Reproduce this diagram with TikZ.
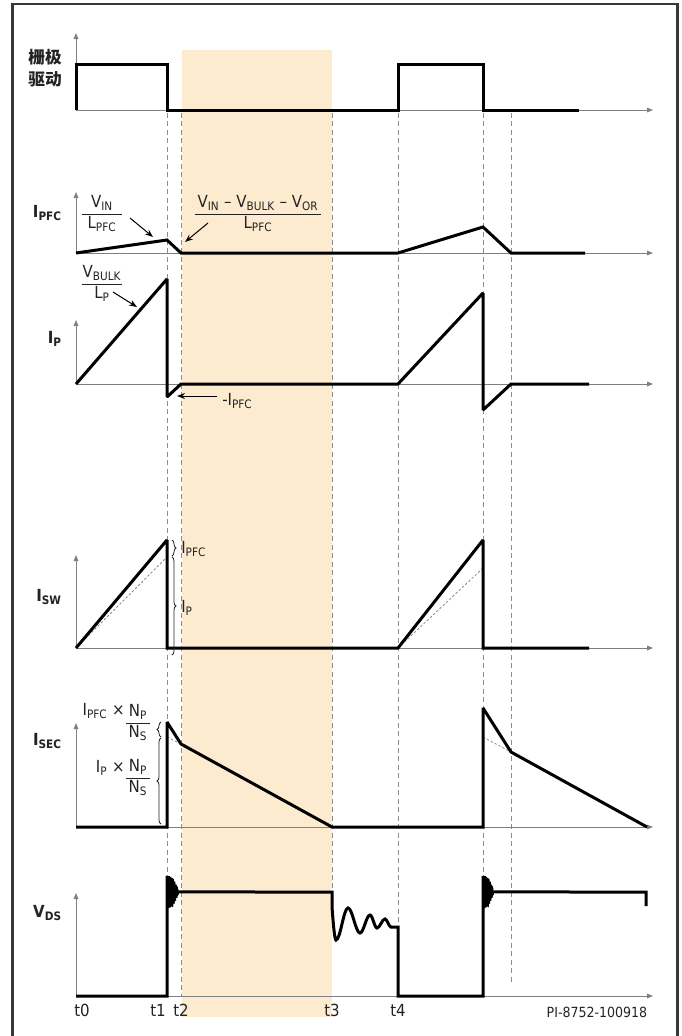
\documentclass[tikz,border=0pt]{standalone}
\usepackage{fontspec}
\IfFontExistsTF{DejaVu Sans Condensed}{\setmainfont{DejaVu Sans Condensed}}{\setmainfont{DejaVu Sans}}
\newfontfamily\cjkfont{Noto Sans CJK SC}
\usetikzlibrary{arrows.meta,decorations.pathreplacing}
\definecolor{shadecol}{RGB}{253,235,208}
\definecolor{axcol}{RGB}{125,128,135}
\definecolor{guidecol}{RGB}{140,140,140}
\definecolor{framecol}{RGB}{55,55,55}
\definecolor{txtcol}{RGB}{35,35,35}
\newcommand\sbs[1]{\textsubscript{#1}}
\newcommand\frc[2]{\begin{tabular}{@{\,}c@{\,}}#1\\\hline #2\end{tabular}}
\newcommand\frcw[3]{\begin{tabular}{@{}c@{}}\makebox[#1]{#2}\\\hline #3\end{tabular}}
\setlength{\arrayrulewidth}{0.6pt}
\begin{document}
\begin{tikzpicture}[x=0.75pt,y=-0.75pt,
  sig/.style={line width=2.25pt, line join=miter, miter limit=2},
  ax/.style={draw=axcol, line width=0.75pt, -{Triangle[length=4.5pt,width=3.5pt]}},
  guide/.style={draw=guidecol, line width=0.75pt, dash pattern=on 3.75pt off 2.6pt},
  thind/.style={draw=guidecol, line width=0.6pt, dash pattern=on 1.8pt off 1.5pt},
  ptr/.style={draw=black, line width=0.75pt, -{Stealth[length=6pt,width=4.5pt]}},
  brc/.style={draw=txtcol, line width=0.6pt, decorate, decoration={brace, amplitude=3pt}},
  lbl/.style={font=\fontsize{12.5}{14}\selectfont\bfseries, text=txtcol, inner sep=0pt, anchor=east, align=center},
  frm/.style={font=\fontsize{12.5}{15}\selectfont, text=txtcol, inner sep=0pt},
  tl/.style={font=\fontsize{12.5}{13.5}\selectfont, text=txtcol, inner sep=0pt},
]
\useasboundingbox (0,0) rectangle (682,1036);
% shaded interval t2..t3
\fill[shadecol] (182,50) rectangle (332,1017);
% frame
\draw[framecol, line width=1.75pt] (12.5,1040) -- (12.5,4) -- (677.5,4) -- (677.5,1040);
% dashed guides
\draw[guide] (167,113) -- (167,878);
\draw[guide] (181,113) -- (181,996);
\draw[guide] (332,113) -- (332,892);
\draw[guide] (398,113) -- (398,927);
\draw[guide] (483,113) -- (483,878);
\draw[guide] (511,113) -- (511,983);
% axes
\foreach \yb/\yt in {110/33, 253/192, 384/320, 648/555, 827/723, 996/893} {
  \draw[ax] (76,\yb) -- (76,\yt);
  \draw[ax] (76,\yb) -- (653,\yb);
}
% gate drive
\draw[sig] (76,110) -- (76,64) -- (167,64) -- (167,110) -- (398,110) -- (398,64) -- (483,64) -- (483,110) -- (579,110);
% I_PFC
\draw[sig] (76,253) -- (167,240) -- (181,253) -- (398,253) -- (483,227) -- (511,253) -- (585,253);
% I_P
\draw[sig] (76,384) -- (167,279) -- (167,397) -- (181,384) -- (398,384) -- (483,293) -- (483,410) -- (511,384) -- (589,384);
% I_SW
\draw[thind] (76,648) -- (167,557);
\draw[thind] (398,648) -- (483,568);
\draw[sig] (76,648) -- (167,540) -- (167,648) -- (398,648) -- (483,540) -- (483,648) -- (589,648);
% I_SEC
\draw[thind] (167,737) -- (181,744);
\draw[thind] (483,737) -- (511,752);
\draw[sig] (76,827) -- (167,827) -- (167,722) -- (181,744) -- (332,827) -- (483,827) -- (483,708) -- (511,752) -- (647,827);
% V_DS
\draw[sig] (76,996) -- (167,996) -- (167,876)
  -- plot[domain=0:1,samples=240] ({167+11*\x},{892-16*(1-\x*\x)*cos(2880*\x)})
  -- (332,892) -- (332,907) sin (336,940) cos (342,924) sin (348,908) cos (354,920.5) sin (360,933)
  cos (365,924) sin (370,915) cos (373.5,921.5) sin (377,928) cos (381,923.5) sin (385,919)
  cos (388,923) sin (391,927) -- (398,927) -- (398,996) -- (483,996) -- (483,876)
  -- plot[domain=0:1,samples=240] ({483+10*\x},{892-16*(1-\x*\x)*cos(2880*\x)})
  -- (646,892) -- (646,906);
% braces I_SW
\draw[brc] (172,540) -- (172,556);
\draw[brc] (172,557) -- (172,655);
\node[tl, anchor=west] (lbpfc) at (181,549) {I\sbs{PFC}};
\node[tl, anchor=west] (lbp) at (181,608) {I\sbs{P}};
% braces I_SEC
\draw[brc] (161,737) -- (161,722);
\draw[brc] (161,824) -- (161,738);
\node[frm] (fs1) at (138,723) {\frc{N\sbs{P}}{N\sbs{S}}};
\node[frm, anchor=east] (is1) at (125,711) {I\sbs{PFC} ×};
\node[frm] (fs2) at (138,778) {\frc{N\sbs{P}}{N\sbs{S}}};
\node[frm, anchor=east] (is2) at (125,768) {I\sbs{P} ×};
% signal labels
\node[lbl, font=\fontsize{12.5}{17}\selectfont\cjkfont\bfseries] (lgd) at (62,68) {栅极\\驱动};
\node[lbl] (lpfc) at (62,213) {I\sbs{PFC}};
\node[lbl] (lp) at (62,339) {I\sbs{P}};
\node[lbl] (lsw) at (62,597) {I\sbs{SW}};
\node[lbl] (lsec) at (62,741) {I\sbs{SEC}};
\node[lbl] (lvds) at (62,913) {V\sbs{DS}};
% formulas
\node[frm] (fa) at (102,214) {\frcw{30.75pt}{V\sbs{IN}}{L\sbs{PFC}}};
\node[frm] (fb) at (258,214) {\frc{V\sbs{IN} – V\sbs{BULK} – V\sbs{OR}}{L\sbs{PFC}}};
\node[frm] (fc) at (102,284) {\frcw{30.75pt}{V\sbs{BULK}}{L\sbs{P}}};
\node[frm, anchor=west] (mipfc) at (222,401) {-I\sbs{PFC}};
% pointer arrows
\coordinate (p1s) at (130,218); \coordinate (p1e) at (153,237);
\coordinate (p2s) at (208,223); \coordinate (p2e) at (185,242);
\coordinate (p3s) at (113,292); \coordinate (p3e) at (137,307);
\coordinate (p4s) at (217,396); \coordinate (p4e) at (177,396);
\draw[ptr] (p1s) -- (p1e);
\draw[ptr] (p2s) -- (p2e);
\draw[ptr] (p3s) -- (p3e);
\draw[ptr] (p4s) -- (p4e);
% time labels
\node[tl] (t0) at (82,1010) {t0};
\node[tl] (t1) at (158,1010) {t1};
\node[tl] (t2) at (181,1010) {t2};
\node[tl] (t3) at (332,1010) {t3};
\node[tl] (t4) at (398,1010) {t4};
\node[font=\fontsize{10.5}{12}\selectfont, text=txtcol, inner sep=0pt] (pi) at (597,1012) {PI-8752-100918};
\end{tikzpicture}
\end{document}
